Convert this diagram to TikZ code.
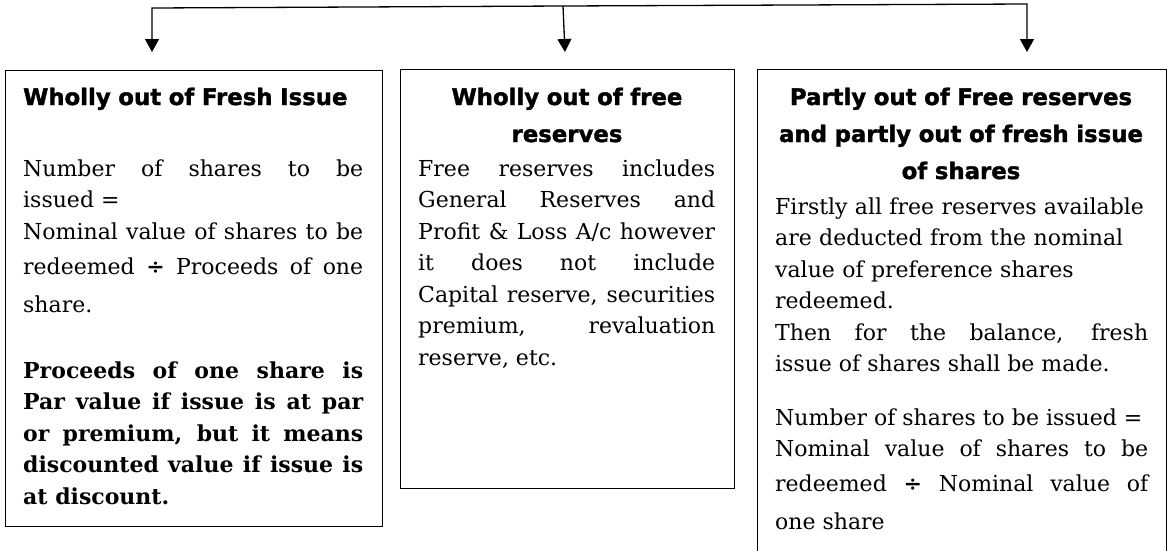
\documentclass[tikz,border=0pt]{standalone}
\usepackage{fontspec}
\setmainfont{DejaVu Serif}
\newfontfamily\headfont{DejaVu Sans}[BoldFeatures={FakeBold=1.6}]
\usetikzlibrary{arrows.meta}
\usetikzlibrary{positioning}
\tolerance=10000
\hbadness=10000
\hyphenpenalty=10000

\newcommand{\bodysize}{\fontsize{22}{31.5}\selectfont}
\newcommand{\headsize}{\fontsize{22.8}{37}\selectfont}
\newcommand{\divstrut}{\rule[-20pt]{0pt}{54pt}}
\newcommand{\divsign}{\textbf{÷}}

\begin{document}
\begin{tikzpicture}[
  x=1pt, y=-1pt,
  every node/.style={inner sep=0pt},
  panel/.style={draw, line width=1.2pt, anchor=north west},
  heading/.style={font=\headfont\headsize\bfseries, text width=#1, align=center, anchor=base},
  body/.style={font=\bodysize, text width=#1, align=justify, anchor=base west},
  arrow/.style={line width=1.3pt, -{Triangle[length=13pt, width=14pt]}}
]
\useasboundingbox (0,0) rectangle (1168,550);

\coordinate (splitl) at (152,8);
\coordinate (splitm) at (563,6);
\coordinate (splitr) at (1027,4);
\coordinate (tipl) at (152,52);
\coordinate (tipm) at (565,52);
\coordinate (tipr) at (1027,52);
\draw[arrow] (splitm) -- (splitl) -- (tipl);
\draw[arrow] (splitm) -- (tipm);
\draw[arrow] (splitm) -- (splitr) -- (tipr);

\node[panel, minimum width=377pt, minimum height=456pt] (fresh) at (5,70) {};
\node[heading=340pt, align=left, anchor=base west] (freshhead) at (23,105) {Wholly out of Fresh Issue};
\node[body=340pt] (freshcalc) at (23,176) {Number of shares to be\linebreak issued =\newline Nominal value of shares to be\linebreak\divstrut redeemed \divsign{} Proceeds of one\linebreak share.};
\node[body=340pt, font=\bodysize\bfseries] (freshnote) at (23,378) {Proceeds of one share is\linebreak Par value if issue is at par\linebreak or premium, but it means\linebreak discounted value if issue is\linebreak at discount.};

\node[panel, minimum width=334pt, minimum height=419pt] (free) at (400,69) {};
\node[heading=297pt] (freehead) at (567,105) {Wholly out of free\\reserves};
\node[body=297pt] (freetext) at (418,176) {Free reserves includes\linebreak General Reserves and\linebreak Profit \& Loss A/c however\linebreak it does not include\linebreak Capital reserve, securities\linebreak premium, revaluation\linebreak reserve, etc.};

\node[panel, minimum width=409pt, minimum height=500pt] (partly) at (757,69) {};
\node[heading=373pt] (partlyhead) at (961,105) {Partly out of Free reserves\\and partly out of fresh issue\\of shares};
\node[body=373pt, align=left] (partlyfirst) at (775,214) {Firstly all free reserves available\\are deducted from the nominal\\value of preference shares\\redeemed.};
\node[body=373pt] (partlybalance) at (775,340) {Then for the balance, fresh\linebreak issue of shares shall be made.};
\node[body=373pt] (partlycalc) at (775,425) {Number of shares to be issued =\newline Nominal value of shares to be\linebreak\divstrut redeemed \divsign{} Nominal value of\linebreak one share};
\end{tikzpicture}
\end{document}
